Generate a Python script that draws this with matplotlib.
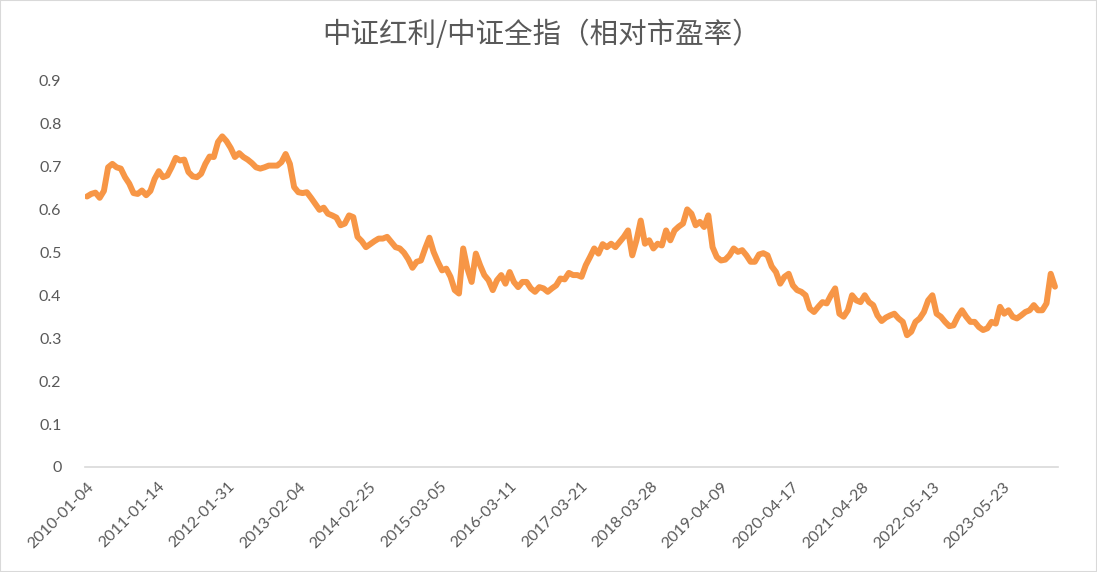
import numpy as np
import matplotlib
matplotlib.use('Agg')
import matplotlib.pyplot as plt
from matplotlib.patches import Rectangle

plt.rcParams['font.family'] = ['Lato', 'Noto Sans CJK SC', 'DejaVu Sans']

# ── 데이터 (15 거래일 간격 샘플) ─────────────────────────────────────
STEP = 15           # trading days per sample
TICK_EVERY = 250    # trading days per axis label

TITLE = '中证红利/中证全指（相对市盈率）'

TICK_LABELS = ['2010-01-04', '2011-01-14', '2012-01-31', '2013-02-04', '2014-02-25',
               '2015-03-05', '2016-03-11', '2017-03-21', '2018-03-28', '2019-04-09',
               '2020-04-17', '2021-04-28', '2022-05-13', '2023-05-23']

pe_ratio = [
    0.630, 0.636, 0.639, 0.627, 0.643, 0.698, 0.706, 0.698, 0.695, 0.675,
    0.660, 0.638, 0.636, 0.644, 0.633, 0.643, 0.671, 0.689, 0.675, 0.679,
    0.698, 0.720, 0.714, 0.716, 0.687, 0.677, 0.675, 0.683, 0.706, 0.723,
    0.722, 0.757, 0.770, 0.759, 0.743, 0.722, 0.731, 0.722, 0.716, 0.708,
    0.698, 0.695, 0.698, 0.702, 0.702, 0.702, 0.710, 0.729, 0.706, 0.652,
    0.640, 0.638, 0.640, 0.627, 0.613, 0.599, 0.604, 0.590, 0.586, 0.581,
    0.563, 0.567, 0.586, 0.582, 0.536, 0.526, 0.512, 0.519, 0.526, 0.532,
    0.532, 0.536, 0.524, 0.512, 0.509, 0.499, 0.484, 0.464, 0.478, 0.481,
    0.509, 0.534, 0.501, 0.478, 0.458, 0.462, 0.443, 0.412, 0.404, 0.509,
    0.462, 0.431, 0.497, 0.470, 0.447, 0.435, 0.412, 0.435, 0.447, 0.427,
    0.454, 0.431, 0.419, 0.431, 0.431, 0.416, 0.408, 0.419, 0.416, 0.408,
    0.416, 0.423, 0.439, 0.437, 0.452, 0.447, 0.447, 0.443, 0.470, 0.489,
    0.509, 0.497, 0.519, 0.512, 0.520, 0.512, 0.524, 0.536, 0.551, 0.493,
    0.528, 0.574, 0.520, 0.528, 0.509, 0.520, 0.516, 0.551, 0.528, 0.551,
    0.560, 0.567, 0.600, 0.590, 0.563, 0.571, 0.559, 0.586, 0.512, 0.489,
    0.481, 0.483, 0.493, 0.509, 0.501, 0.505, 0.493, 0.478, 0.478, 0.495,
    0.498, 0.493, 0.467, 0.454, 0.427, 0.443, 0.450, 0.423, 0.412, 0.408,
    0.400, 0.369, 0.361, 0.373, 0.384, 0.381, 0.400, 0.416, 0.357, 0.350,
    0.365, 0.400, 0.388, 0.384, 0.400, 0.384, 0.377, 0.353, 0.340, 0.348,
    0.353, 0.357, 0.346, 0.338, 0.307, 0.315, 0.338, 0.346, 0.361, 0.388,
    0.400, 0.357, 0.350, 0.338, 0.328, 0.330, 0.350, 0.365, 0.350, 0.338,
    0.338, 0.326, 0.319, 0.323, 0.338, 0.334, 0.373, 0.357, 0.365, 0.350,
    0.346, 0.353, 0.361, 0.365, 0.377, 0.365, 0.365, 0.381, 0.450, 0.420,
]

days = np.arange(len(pe_ratio)) * STEP
tick_pos = np.arange(len(TICK_LABELS)) * TICK_EVERY

# ── 그림 ──────────────────────────────────────────────────────────────
fig = plt.figure(figsize=(10.97, 5.72), dpi=100)
ax = fig.add_axes([0.0775, 0.1836, 0.887, 0.6755])

ax.plot(days, pe_ratio, color='#F79646', linewidth=4.3,
        solid_joinstyle='round', solid_capstyle='round')

ax.set_xlim(-7, days[-1] + 11)
ax.set_ylim(0, 0.9)
ax.set_yticks(np.arange(0, 0.91, 0.1))
ax.set_yticklabels(['0' if v == 0 else f'{v:.1f}' for v in np.arange(0, 0.91, 0.1)])
ax.set_xticks(tick_pos)
ax.set_xticklabels(TICK_LABELS, rotation=45, ha='right', va='top',
                   rotation_mode='anchor')

ax.tick_params(axis='y', length=0, pad=17, labelsize=11.5, labelcolor='#595959')
ax.tick_params(axis='x', length=0, pad=9, labelsize=11.5, labelcolor='#595959')

for side in ['top', 'right', 'left']:
    ax.spines[side].set_visible(False)
ax.spines['bottom'].set_color('#D9D9D9')
ax.spines['bottom'].set_linewidth(1.2)

fig.text(0.494, 0.938, TITLE, ha='center', va='center', fontsize=20.5,
         color='#595959', family=['Noto Sans CJK SC', 'DejaVu Sans'])

fig.patches.append(Rectangle((0, 0), 1, 1, transform=fig.transFigure,
                             fill=False, edgecolor='#D9D9D9', linewidth=1.5))

fig.savefig('out.png', dpi=100)
